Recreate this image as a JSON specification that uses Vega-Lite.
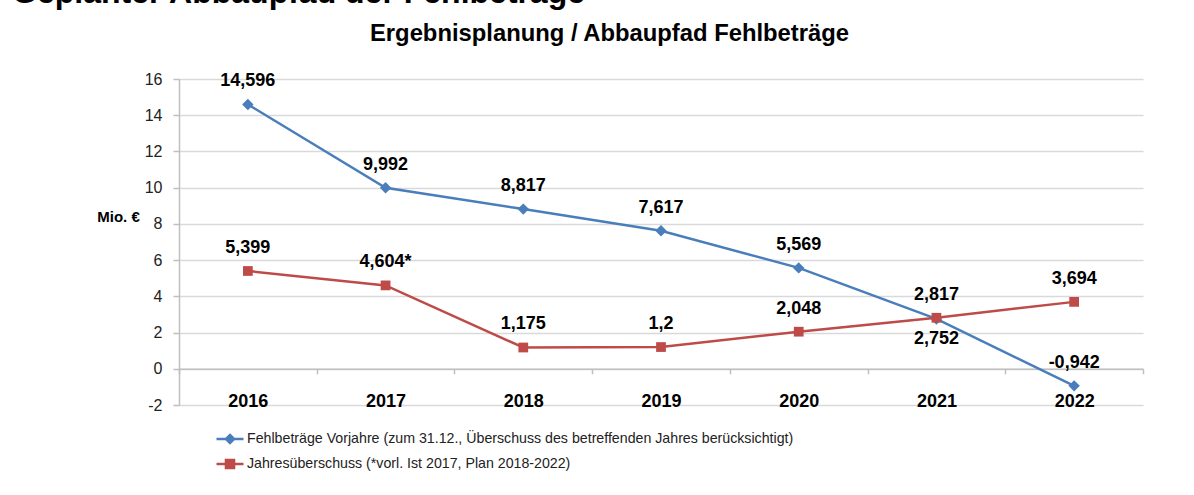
{
"$schema": "https://vega.github.io/schema/vega-lite/v6.json",
"autosize": {"type": "none"},
"width": 964,
"height": 326,
"padding": {"left": 179, "top": 79, "right": 51, "bottom": 90},
"background": "white",
"title": {"text": "Geplanter Abbaupfad der Fehlbeträge", "anchor": "start", "frame": "group", "fontSize": 32, "font": "Liberation Sans", "fontWeight": "bold", "color": "black", "dx": -167, "offset": 11},
"config": {"view": {"stroke": null}, "font": "Liberation Sans"},
"data": {"values": [
{"year": "2016", "series": "Fehlbeträge Vorjahre (zum 31.12., Überschuss des betreffenden Jahres berücksichtigt)", "value": 14.596, "label": "14,596"},
{"year": "2017", "series": "Fehlbeträge Vorjahre (zum 31.12., Überschuss des betreffenden Jahres berücksichtigt)", "value": 9.992, "label": "9,992"},
{"year": "2018", "series": "Fehlbeträge Vorjahre (zum 31.12., Überschuss des betreffenden Jahres berücksichtigt)", "value": 8.817, "label": "8,817"},
{"year": "2019", "series": "Fehlbeträge Vorjahre (zum 31.12., Überschuss des betreffenden Jahres berücksichtigt)", "value": 7.617, "label": "7,617"},
{"year": "2020", "series": "Fehlbeträge Vorjahre (zum 31.12., Überschuss des betreffenden Jahres berücksichtigt)", "value": 5.569, "label": "5,569"},
{"year": "2021", "series": "Fehlbeträge Vorjahre (zum 31.12., Überschuss des betreffenden Jahres berücksichtigt)", "value": 2.752, "label": "2,752"},
{"year": "2022", "series": "Fehlbeträge Vorjahre (zum 31.12., Überschuss des betreffenden Jahres berücksichtigt)", "value": -0.942, "label": "-0,942"},
{"year": "2016", "series": "Jahresüberschuss (*vorl. Ist 2017, Plan 2018-2022)", "value": 5.399, "label": "5,399"},
{"year": "2017", "series": "Jahresüberschuss (*vorl. Ist 2017, Plan 2018-2022)", "value": 4.604, "label": "4,604*"},
{"year": "2018", "series": "Jahresüberschuss (*vorl. Ist 2017, Plan 2018-2022)", "value": 1.175, "label": "1,175"},
{"year": "2019", "series": "Jahresüberschuss (*vorl. Ist 2017, Plan 2018-2022)", "value": 1.2, "label": "1,2"},
{"year": "2020", "series": "Jahresüberschuss (*vorl. Ist 2017, Plan 2018-2022)", "value": 2.048, "label": "2,048"},
{"year": "2021", "series": "Jahresüberschuss (*vorl. Ist 2017, Plan 2018-2022)", "value": 2.817, "label": "2,817"},
{"year": "2022", "series": "Jahresüberschuss (*vorl. Ist 2017, Plan 2018-2022)", "value": 3.694, "label": "3,694"}
]},
"encoding": {
  "y": {"field": "value", "type": "quantitative", "scale": {"domain": [-2, 16], "nice": false, "zero": false},
    "axis": {"values": [-2, 0, 2, 4, 6, 8, 10, 12, 14, 16], "labelExpr": "replace(datum.label, '−', '-')", "grid": true, "gridColor": "#d9d9d9", "gridWidth": 1.5, "domainColor": "#bfbfbf", "domainWidth": 1.5, "tickColor": "#bfbfbf", "tickSize": 6, "tickWidth": 1.5, "labelFont": "Liberation Sans", "labelFontSize": 16, "labelColor": "#222222", "labelPadding": 11, "title": "Mio. €", "titleAngle": 0, "titleX": -61, "titleY": 137, "titleAlign": "center", "titleBaseline": "middle", "titleFont": "Liberation Sans", "titleFontSize": 15, "titleFontWeight": "bold", "titleColor": "black"}}
},
"layer": [
  {
    "mark": {"type": "line", "strokeWidth": 2.5},
    "encoding": {
      "x": {"field": "year", "type": "ordinal", "scale": {"type": "band", "paddingInner": 0, "paddingOuter": 0},
        "axis": {"orient": "bottom", "offset": -36.2, "domainColor": "#bfbfbf", "domainWidth": 1.5, "tickColor": "#bfbfbf", "tickWidth": 1.5, "tickSize": 5, "tickBand": "extent", "labelAngle": 0, "labelFont": "Liberation Sans", "labelFontSize": 18, "labelFontWeight": "bold", "labelColor": "black", "labelPadding": 19, "title": null, "grid": false}},
      "color": {"field": "series", "type": "nominal",
        "scale": {"domain": ["Fehlbeträge Vorjahre (zum 31.12., Überschuss des betreffenden Jahres berücksichtigt)", "Jahresüberschuss (*vorl. Ist 2017, Plan 2018-2022)"], "range": ["#4A7EBB", "#BE4B48"]},
        "legend": {"orient": "none", "legendX": 36, "legendY": 345, "direction": "vertical", "title": null, "symbolType": "M-1,0H1", "symbolSize": 729, "labelFont": "Liberation Sans", "labelFontSize": 14.2, "labelLimit": 0, "labelColor": "#222222", "rowPadding": -3, "labelOffset": 2,
          "encode": {"symbols": {"update": {
            "shape": {"signal": "indexof(datum.value, 'Fehl') === 0 ? 'M-1,0H1M0,-0.3L0.3,0L0,0.3L-0.3,0Z' : 'M-1,0H1M-0.3,-0.3H0.3V0.3H-0.3Z'"},
            "fill": {"signal": "indexof(datum.value, 'Fehl') === 0 ? '#4A7EBB' : '#BE4B48'"},
            "stroke": {"signal": "indexof(datum.value, 'Fehl') === 0 ? '#4A7EBB' : '#BE4B48'"},
            "strokeWidth": {"value": 2.5},
            "opacity": {"value": 1}
          }}}}}
    }
  },
  {
    "mark": {"type": "point", "filled": true, "opacity": 1},
    "encoding": {
      "x": {"field": "year", "type": "ordinal", "axis": null},
      "color": {"field": "series", "type": "nominal"},
      "shape": {"field": "series", "type": "nominal", "scale": {"range": ["diamond", "square"]}, "legend": null},
      "size": {"field": "series", "type": "nominal", "scale": {"range": [130, 95]}, "legend": null}
    }
  },
  {
    "transform": [{"filter": "!(indexof(datum.series, 'Fehl') === 0 && datum.year === '2021')"}],
    "mark": {"type": "text", "dy": -23, "fontSize": 18, "fontWeight": "bold", "font": "Liberation Sans", "color": "black"},
    "encoding": {
      "x": {"field": "year", "type": "ordinal",
        "axis": {"orient": "top", "domain": false, "ticks": false, "labels": false, "grid": false, "title": "Ergebnisplanung / Abbaupfad Fehlbeträge", "titleFont": "Liberation Sans", "titleFontSize": 23.8, "titleFontWeight": "bold", "titleColor": "black", "titleX": 430, "titleY": -46, "titleAlign": "center", "titleBaseline": "middle"}},
      "text": {"field": "label"}
    }
  },
  {
    "transform": [{"filter": "indexof(datum.series, 'Fehl') === 0 && datum.year === '2021'"}],
    "mark": {"type": "text", "dy": 20, "fontSize": 18, "fontWeight": "bold", "font": "Liberation Sans", "color": "black"},
    "encoding": {
      "x": {"field": "year", "type": "ordinal", "axis": null},
      "text": {"field": "label"}
    }
  }
],
"resolve": {"axis": {"x": "independent"}}
}
